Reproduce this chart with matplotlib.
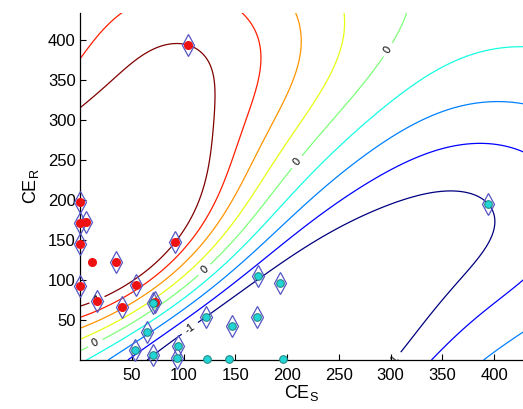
import numpy as np
import matplotlib
matplotlib.use("Agg")
import matplotlib.pyplot as plt

plt.rcParams['font.family'] = ['Liberation Sans', 'DejaVu Sans']
plt.rcParams['mathtext.default'] = 'regular'

# class +1 (red dots) and class -1 (cyan dots), CE_S / CE_R values
red_x = [0, 0, 5.5, 0, 34.8, 92, 0, 53.8, 16, 40.9, 72.5, 104, 12]
red_y = [197, 171, 173, 145, 123, 147.5, 93, 94, 73.75, 66, 72.5, 394, 122]
red_sv = [1, 1, 1, 1, 1, 1, 1, 1, 1, 1, 1, 1, 0]

cyan_x = [70.8, 64.4, 53.1, 70.8, 95, 94, 172.3, 193, 121.7, 170.7, 146.5, 394.5, 122.4, 144, 196.5]
cyan_y = [71.6, 35.4, 12.5, 6, 17.5, 2, 105, 96, 54, 54, 42.5, 195, 1, 1, 1]
cyan_sv = [1, 1, 1, 1, 1, 1, 1, 1, 1, 1, 1, 1, 0, 0, 0]

# rbf svm settings
kernel_sigma = 115.0
box_C = 1.5
other_levels = [-0.75, -0.5, -0.25, 0.25, 0.5, 0.75]
label_levels = [-1, 0, 1]
label_pos = [(306, 381), (210.6, 246.6), (119.8, 113.4), (13.8, 23.75),
             (117.6, 18.75), (233.5, 18.75), (1.6, 121)]


def rbf(A, B, s):
    d2 = ((A[:, None, :] - B[None, :, :]) ** 2).sum(-1)
    return np.exp(-d2 / (2 * s * s))


def train_svm(X, y, s, C):
    # plain SMO with max violating pair
    K = rbf(X, X, s)
    Q = y[:, None] * y[None] * K
    a = np.zeros(len(y))
    G = -np.ones(len(y))
    m = M = 0.0
    for _ in range(200000):
        up = ((y > 0) & (a < C)) | ((y < 0) & (a > 0))
        lo = ((y > 0) & (a > 0)) | ((y < 0) & (a < C))
        v = -y * G
        i = np.where(up)[0][np.argmax(v[up])]
        j = np.where(lo)[0][np.argmin(v[lo])]
        m, M = v[i], v[j]
        if m - M < 1e-6:
            break
        quad = max(K[i, i] + K[j, j] - 2 * K[i, j], 1e-12)
        t = (m - M) / quad
        t = min(t, C - a[i] if y[i] > 0 else a[i])
        t = min(t, a[j] if y[j] > 0 else C - a[j])
        a[i] += y[i] * t
        a[j] -= y[j] * t
        G += Q[:, i] * y[i] * t - Q[:, j] * y[j] * t
    return a * y, (m + M) / 2


X = np.array(list(zip(red_x + cyan_x, red_y + cyan_y)), float)
y = np.array([1.0] * len(red_x) + [-1.0] * len(cyan_x))
coef, bias = train_svm(X, y, kernel_sigma, box_C)

gx, gy = np.meshgrid(np.linspace(0, 430, 300), np.linspace(0, 436, 300))
grid = np.c_[gx.ravel(), gy.ravel()]
Z = (rbf(grid, X, kernel_sigma) @ coef + bias).reshape(gx.shape)

fig = plt.figure(figsize=(5.23, 4.09), dpi=100)
ax = fig.add_axes([80 / 523, 49 / 409, 443 / 523, 347 / 409])

ax.contour(gx, gy, Z, levels=other_levels, cmap='jet', vmin=-1, vmax=1,
           linewidths=0.9)
cs = ax.contour(gx, gy, Z, levels=label_levels, cmap='jet', vmin=-1, vmax=1,
                linewidths=0.9)
ax.clabel(cs, manual=label_pos, inline=True, fontsize=8, colors='k',
          fmt={-1: '-1', 0: '0', 1: '1'})

rx = np.array(red_x); ry = np.array(red_y); rs = np.array(red_sv, bool)
cx = np.array(cyan_x); cy = np.array(cyan_y); csv = np.array(cyan_sv, bool)

ax.plot(np.r_[rx[rs], cx[csv]], np.r_[ry[rs], cy[csv]], 'd', ms=11,
        mfc='none', mec='#5555c4', mew=0.9, clip_on=False, zorder=3)
ax.plot(rx, ry, 'o', ms=5.5, mfc='#ee1111', mec='#ee1111', clip_on=False, zorder=4)
ax.plot(cx, cy, 'o', ms=5.5, mfc='#22d4d4', mec='#1f7f7f', mew=0.7,
        clip_on=False, zorder=4)

ax.set_xlim(0, 428)
ax.set_ylim(0, 434)
ax.set_xticks(range(50, 401, 50))
ax.set_yticks(range(50, 401, 50))
ax.tick_params(direction='in', length=4, width=0.8, labelsize=12)
ax.tick_params(axis='x', pad=6)
ax.tick_params(axis='y', pad=3)
ax.spines['top'].set_visible(False)
ax.spines['right'].set_visible(False)
ax.spines['left'].set_linewidth(0.9)
ax.spines['bottom'].set_linewidth(0.9)

ax.set_xlabel('CE$_S$', fontsize=13, labelpad=0)
ax.set_ylabel('CE$_R$', fontsize=13, labelpad=5)

fig.savefig('out.png', dpi=100)
